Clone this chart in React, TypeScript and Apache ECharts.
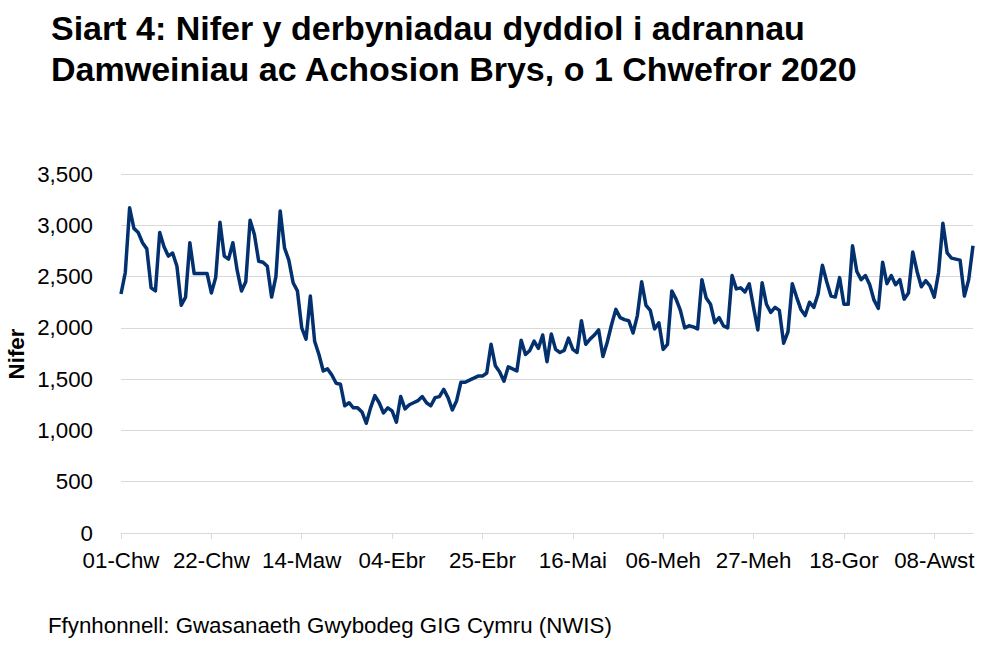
import React, { useEffect, useRef } from "react";
import * as echarts from "echarts";

const monthNames = ["Chw", "Maw", "Ebr", "Mai", "Meh", "Gor", "Awst"];
const monthDays = [29, 31, 30, 31, 30, 31, 31];

const admissions = [
  2330, 2540, 3170, 2970, 2930, 2830, 2770, 2390, 2360, 2930,
  2790, 2700, 2730, 2600, 2220, 2300, 2830, 2530, 2530, 2530,
  2530, 2340, 2490, 3030, 2700, 2670, 2830, 2560, 2360, 2450,
  3050, 2910, 2650, 2640, 2600, 2300, 2500, 3140, 2780, 2660,
  2440, 2360, 2000, 1890, 2310, 1870, 1740, 1580, 1600, 1540,
  1460, 1450, 1240, 1270, 1220, 1220, 1180, 1070, 1220, 1340,
  1270, 1170, 1220, 1190, 1080, 1330, 1210, 1250, 1270, 1290,
  1330, 1270, 1240, 1320, 1330, 1400, 1320, 1200, 1290, 1470,
  1470, 1490, 1510, 1530, 1530, 1560, 1840, 1630, 1570, 1480,
  1620, 1600, 1580, 1880, 1740, 1780, 1870, 1800, 1930, 1670,
  1940, 1790, 1760, 1780, 1900, 1790, 1760, 2070, 1840, 1890,
  1930, 1980, 1720, 1860, 2030, 2180, 2100, 2080, 2070, 1950,
  2120, 2450, 2220, 2170, 1990, 2050, 1790, 1840, 2360, 2280,
  2170, 2000, 2020, 2010, 1990, 2470, 2290, 2230, 2050, 2100,
  2020, 2000, 2510, 2380, 2390, 2350, 2430, 2200, 1980, 2440,
  2230, 2150, 2200, 2170, 1850, 1960, 2430, 2300, 2180, 2120,
  2250, 2200, 2330, 2610, 2450, 2310, 2300, 2490, 2230, 2230,
  2800, 2550, 2470, 2510, 2420, 2270, 2190, 2640, 2430, 2510,
  2420, 2470, 2280, 2340, 2740, 2550, 2400, 2460, 2410, 2300,
  2540, 3020, 2730, 2680, 2670, 2660, 2310, 2470, 2800,
];

const yTicks = { min: 0, max: 3500, interval: 500 };

function buildDates(count: number): string[] {
  const out: string[] = [];
  let m = 0;
  let d = 1;
  for (let i = 0; i < count; i++) {
    out.push((d < 10 ? "0" + d : "" + d) + "-" + monthNames[m]);
    d++;
    if (d > monthDays[m]) {
      d = 1;
      m++;
    }
  }
  return out;
}

const dates = buildDates(admissions.length);

const FONT = '"Liberation Sans", Arial, Helvetica, sans-serif';
const LABEL_SIZE = 22.3;

export default function App() {
  const ref = useRef<HTMLDivElement>(null);
  useEffect(() => {
    if (!ref.current) return;
    const chart = echarts.init(ref.current, null, { renderer: "svg" });
    chart.setOption({
      animation: false,
      backgroundColor: "#ffffff",
      title: {
        text: "Siart 4: Nifer y derbyniadau dyddiol i adrannau\nDamweiniau ac Achosion Brys, o 1 Chwefror 2020",
        left: 46,
        top: 2,
        textStyle: {
          fontFamily: FONT,
          fontWeight: "bold",
          fontSize: 34,
          lineHeight: 41,
          color: "#000000",
        },
      },
      graphic: [
        {
          type: "text",
          left: 48,
          top: 614,
          style: {
            text: "Ffynhonnell: Gwasanaeth Gwybodeg GIG Cymru (NWIS)",
            fontFamily: FONT,
            fontSize: LABEL_SIZE,
            fill: "#000000",
          },
        },
        {
          type: "text",
          x: 16,
          y: 354,
          rotation: Math.PI / 2,
          style: {
            text: "Nifer",
            fontFamily: FONT,
            fontWeight: "bold",
            fontSize: LABEL_SIZE,
            fill: "#000000",
            align: "center",
            verticalAlign: "middle",
          },
        },
      ],
      grid: {
        left: 121,
        right: 23,
        top: 174,
        bottom: 113,
        containLabel: false,
        outerBoundsMode: "none",
      },
      xAxis: {
        type: "category",
        data: dates,
        boundaryGap: false,
        axisLine: { show: true, lineStyle: { color: "#d9d9d9", width: 1 } },
        axisTick: {
          show: true,
          interval: 20,
          length: 6,
          lineStyle: { color: "#d9d9d9" },
        },
        axisLabel: {
          interval: 20,
          margin: 16,
          fontFamily: FONT,
          fontSize: LABEL_SIZE,
          color: "#000000",
          hideOverlap: false,
        },
        splitLine: { show: false },
      },
      yAxis: {
        type: "value",
        min: yTicks.min,
        max: yTicks.max,
        interval: yTicks.interval,
        axisLine: { show: false },
        axisTick: { show: false },
        axisLabel: {
          margin: 28,
          fontFamily: FONT,
          fontSize: LABEL_SIZE,
          color: "#000000",
          formatter: (v: number) => v.toLocaleString("en-GB"),
        },
        splitLine: { show: true, lineStyle: { color: "#d9d9d9", width: 1 } },
      },
      series: [
        {
          type: "line",
          data: admissions,
          showSymbol: false,
          symbol: "none",
          lineStyle: { color: "#03306e", width: 3.5, join: "round" },
          itemStyle: { color: "#03306e" },
        },
      ],
    });
    return () => chart.dispose();
  }, []);
  return (
    <div
      ref={ref}
      style={{ position: "fixed", left: 0, top: 0, width: 996, height: 646 }}
    />
  );
}
